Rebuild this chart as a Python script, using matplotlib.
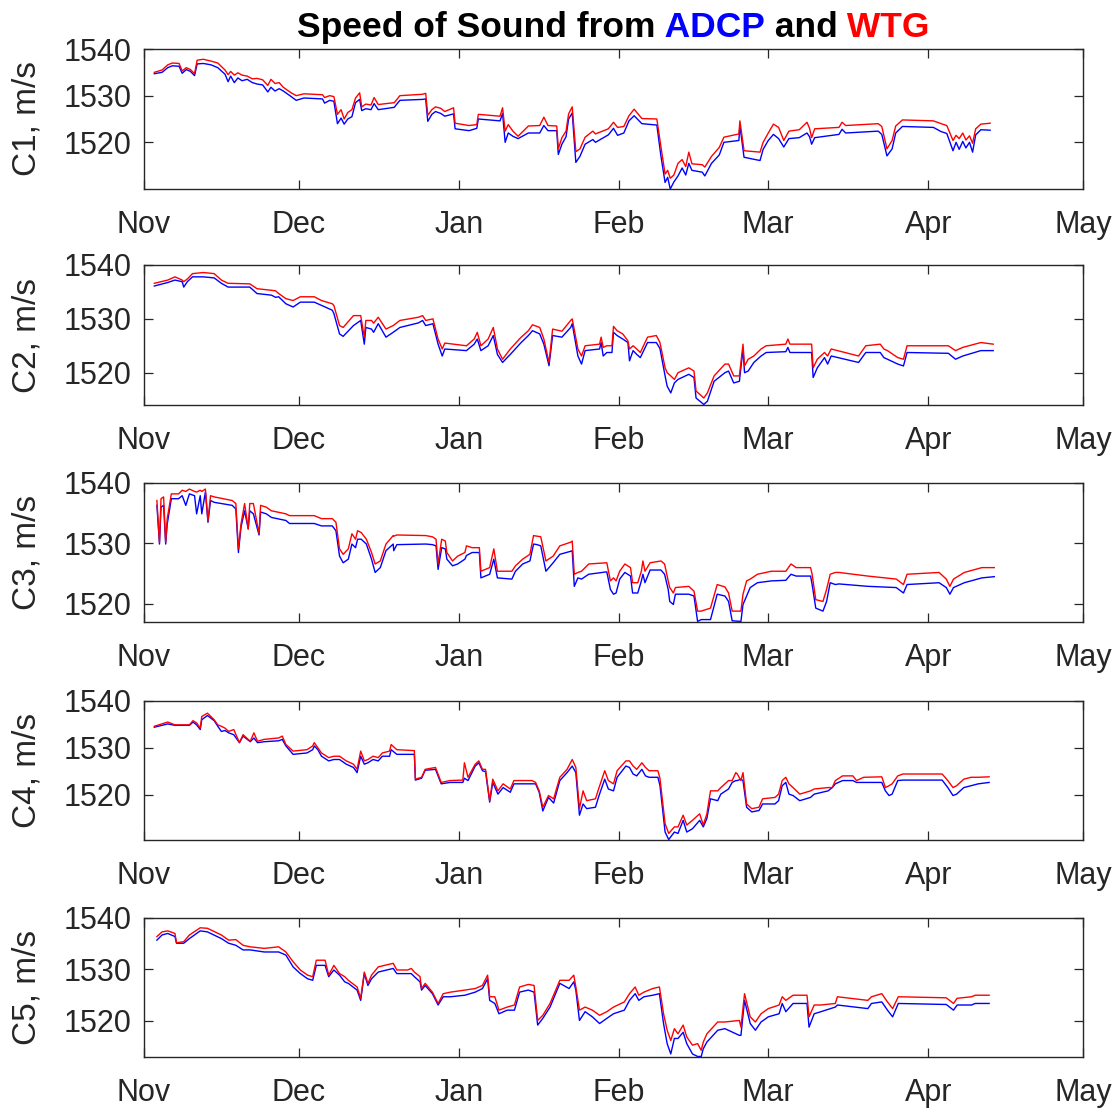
"""Speed of sound at five sites, ADCP vs WTG, Nov 2019 - Apr 2020."""
import datetime as dt

import numpy as np
import matplotlib
matplotlib.use("Agg")
import matplotlib.pyplot as plt
import matplotlib.dates as mdates

START = dt.datetime(2019, 11, 1)
END = dt.datetime(2020, 5, 1)

# (day since Nov 1, ADCP m/s, WTG m/s)
C1 = [
    (2.0, 1534.7, 1535.0), (3.5, 1535.0, 1535.5), (4.6, 1536.0, 1536.6), (5.5, 1536.4, 1537.0),
    (6.8, 1536.3, 1536.9), (7.4, 1534.8, 1535.3), (8.2, 1535.6, 1536.0), (9.0, 1535.2, 1535.6),
    (9.8, 1534.3, 1534.7), (10.3, 1536.8, 1537.6), (11.5, 1536.9, 1537.8), (13.0, 1536.6, 1537.4),
    (14.3, 1536.0, 1537.0), (15.7, 1534.6, 1535.5), (16.3, 1533.0, 1534.5), (16.8, 1534.2, 1535.2),
    (17.5, 1532.8, 1534.4), (18.2, 1533.8, 1534.9), (19.0, 1533.2, 1534.4), (20.0, 1533.5, 1534.2),
    (21.0, 1532.8, 1533.6), (21.9, 1532.5, 1533.7), (23.0, 1532.3, 1533.4), (24.0, 1530.8, 1532.2),
    (24.6, 1531.8, 1533.5), (25.4, 1531.0, 1532.6), (26.2, 1531.5, 1532.8), (27.0, 1531.0, 1531.8),
    (28.4, 1529.9, 1530.7), (29.5, 1529.0, 1530.0), (31.0, 1529.5, 1530.4), (34.6, 1529.3, 1530.2),
    (35.0, 1528.4, 1529.6), (36.0, 1529.0, 1530.0), (36.8, 1528.8, 1529.8), (37.5, 1524.0, 1526.0),
    (38.2, 1525.2, 1527.0), (38.8, 1523.9, 1525.0), (39.5, 1525.0, 1526.4), (40.3, 1525.5, 1527.0),
    (41.0, 1528.5, 1529.5), (41.8, 1529.2, 1530.6), (42.2, 1526.8, 1527.6), (43.0, 1527.2, 1528.2),
    (44.0, 1527.0, 1528.0), (44.6, 1528.3, 1529.6), (45.4, 1527.0, 1528.1), (48.5, 1527.5, 1528.5),
    (49.6, 1529.0, 1530.0), (54.0, 1529.2, 1530.3), (54.6, 1529.3, 1530.5), (55.0, 1524.5, 1525.8),
    (55.8, 1526.0, 1527.0), (56.5, 1526.6, 1527.6), (57.5, 1526.2, 1527.3), (58.3, 1525.6, 1526.6),
    (60.0, 1526.1, 1527.4), (60.3, 1522.9, 1524.1), (63.0, 1522.5, 1523.6), (64.5, 1523.0, 1523.8),
    (64.8, 1525.0, 1526.0), (69.0, 1524.6, 1525.6), (69.5, 1526.2, 1527.4), (70.0, 1520.0, 1522.4),
    (70.6, 1522.0, 1523.8), (71.5, 1521.3, 1522.4), (72.5, 1520.8, 1521.3), (74.5, 1522.0, 1523.5),
    (76.7, 1522.0, 1523.6), (77.5, 1523.6, 1525.4), (78.3, 1522.5, 1523.6), (80.0, 1522.5, 1523.5),
    (80.3, 1517.4, 1518.6), (81.0, 1519.6, 1521.0), (81.8, 1521.2, 1522.4), (82.3, 1525.0, 1526.1),
    (83.0, 1526.3, 1527.6), (83.7, 1515.7, 1518.0), (84.5, 1517.0, 1518.6), (85.5, 1519.6, 1521.1),
    (87.0, 1520.6, 1522.4), (87.5, 1520.0, 1521.8), (90.0, 1521.6, 1522.9), (91.0, 1523.0, 1524.3),
    (91.8, 1521.5, 1523.2), (93.0, 1522.0, 1523.4), (94.0, 1524.6, 1525.7), (95.0, 1525.7, 1527.1),
    (96.5, 1524.0, 1525.1), (99.4, 1523.7, 1525.0), (100.2, 1517.0, 1519.0), (101.0, 1511.4, 1513.2),
    (101.5, 1512.5, 1514.0), (102.0, 1510.0, 1512.3), (102.7, 1511.5, 1513.0), (103.5, 1512.8, 1515.5),
    (104.3, 1514.5, 1516.3), (105.0, 1513.0, 1514.8), (105.6, 1515.5, 1517.9), (106.2, 1514.0, 1515.4),
    (108.2, 1513.6, 1515.2), (108.7, 1512.8, 1514.7), (110.0, 1515.5, 1517.0), (111.5, 1517.3, 1518.9),
    (112.4, 1520.0, 1521.1), (115.3, 1520.4, 1521.8), (115.5, 1523.6, 1524.6), (116.3, 1516.8, 1518.2),
    (119.4, 1516.1, 1517.9), (120.0, 1518.5, 1520.0), (121.0, 1520.4, 1522.0), (122.0, 1521.7, 1523.9),
    (123.0, 1520.8, 1523.2), (124.0, 1519.0, 1520.4), (125.0, 1520.8, 1522.4), (127.0, 1521.0, 1522.7),
    (128.5, 1522.0, 1524.3), (129.0, 1521.2, 1523.0), (129.4, 1519.6, 1521.0), (130.0, 1521.0, 1522.9),
    (134.7, 1521.7, 1523.2), (135.3, 1522.8, 1524.3), (136.0, 1522.0, 1523.6), (142.3, 1522.4, 1524.0),
    (143.0, 1521.7, 1523.4), (144.0, 1517.1, 1518.6), (145.0, 1518.6, 1520.4), (145.7, 1522.0, 1523.5),
    (147.0, 1523.4, 1524.8), (153.0, 1523.2, 1524.6), (154.5, 1522.3, 1524.0), (155.6, 1521.9, 1523.6),
    (156.8, 1518.2, 1520.4), (157.4, 1520.0, 1521.5), (158.0, 1518.5, 1520.8), (158.7, 1520.2, 1522.0),
    (159.3, 1518.8, 1520.5), (160.0, 1520.0, 1521.4), (160.6, 1517.9, 1519.8), (161.2, 1521.6, 1522.9),
    (162.2, 1522.7, 1523.9), (164.0, 1522.6, 1524.1),
]

C2 = [
    (2.0, 1536.1, 1536.6), (4.6, 1536.75, 1537.2), (6.0, 1537.2, 1537.8), (7.4, 1536.9, 1537.2),
    (7.7, 1535.9, 1536.9), (8.4, 1536.9, 1537.4), (9.4, 1537.8, 1538.4), (11.5, 1537.8, 1538.6),
    (13.6, 1537.6, 1538.4), (15.0, 1536.6, 1537.2), (16.3, 1535.9, 1536.6), (20.5, 1535.9, 1536.5),
    (21.9, 1534.7, 1535.6), (24.7, 1534.4, 1535.3), (25.5, 1534.0, 1535.2), (26.1, 1534.1, 1534.7),
    (27.5, 1532.8, 1533.75), (28.9, 1532.2, 1533.4), (30.3, 1533.1, 1534.1), (33.0, 1533.1, 1534.1),
    (34.4, 1532.5, 1533.4), (36.5, 1531.6, 1532.8), (36.8, 1531.0, 1532.5), (37.9, 1527.2, 1528.75),
    (38.6, 1526.75, 1528.4), (40.6, 1528.75, 1530.6), (42.0, 1529.7, 1530.6), (42.7, 1525.3, 1526.6),
    (43.0, 1528.4, 1529.7), (44.1, 1528.1, 1529.7), (44.5, 1527.5, 1529.2), (45.4, 1529.1, 1530.3),
    (46.9, 1526.6, 1528.1), (48.3, 1527.5, 1528.75), (49.6, 1528.4, 1529.7), (53.2, 1529.25, 1530.3),
    (54.0, 1529.7, 1530.6), (54.6, 1528.75, 1529.7), (56.0, 1529.1, 1530.0), (57.0, 1525.3, 1526.25),
    (57.8, 1523.1, 1524.4), (58.3, 1524.4, 1525.5), (62.5, 1524.1, 1525.0), (64.0, 1525.3, 1526.25),
    (64.6, 1526.25, 1527.5), (65.3, 1524.1, 1525.0), (66.7, 1525.0, 1526.25), (67.7, 1526.9, 1528.4),
    (68.5, 1523.4, 1524.4), (69.5, 1521.9, 1522.5), (71.0, 1523.4, 1524.4), (73.0, 1525.5, 1526.5),
    (74.5, 1526.9, 1527.8), (75.3, 1527.8, 1528.9), (76.7, 1527.2, 1528.4), (77.5, 1525.3, 1526.25),
    (78.5, 1521.3, 1521.9), (79.2, 1526.9, 1528.1), (81.0, 1526.6, 1527.7), (82.7, 1528.4, 1529.7),
    (83.0, 1529.1, 1530.0), (84.1, 1523.1, 1524.4), (84.8, 1521.6, 1523.1), (85.5, 1524.1, 1525.0),
    (88.3, 1524.4, 1525.3), (88.6, 1525.6, 1526.6), (89.0, 1523.1, 1524.7), (89.7, 1523.75, 1525.0),
    (90.7, 1523.75, 1525.0), (91.0, 1527.5, 1528.6), (91.7, 1526.9, 1527.8), (92.8, 1526.25, 1527.2),
    (93.8, 1525.6, 1525.9), (94.1, 1522.2, 1524.4), (94.8, 1524.1, 1525.0), (95.5, 1523.4, 1524.4),
    (96.2, 1522.8, 1523.75), (97.6, 1525.6, 1526.6), (99.3, 1525.6, 1526.9), (100.0, 1524.5, 1525.6),
    (101.0, 1519.4, 1520.9), (101.4, 1517.5, 1520.0), (102.1, 1516.25, 1519.4), (102.8, 1518.1, 1518.75),
    (103.5, 1518.75, 1520.0), (105.6, 1519.7, 1520.9), (106.6, 1519.1, 1520.3), (107.0, 1515.3, 1516.6),
    (108.5, 1514.1, 1515.3), (109.2, 1514.7, 1516.25), (110.5, 1518.4, 1519.4), (112.6, 1520.0, 1521.6),
    (113.3, 1520.3, 1521.6), (114.3, 1518.1, 1519.4), (115.4, 1518.4, 1519.4), (116.1, 1524.4, 1525.3),
    (116.4, 1520.0, 1521.25), (117.1, 1520.3, 1522.5), (118.2, 1521.9, 1523.1), (119.6, 1523.1, 1524.4),
    (120.6, 1523.75, 1525.0), (124.4, 1523.9, 1525.3), (124.8, 1524.7, 1526.25), (125.2, 1523.75, 1525.3),
    (129.4, 1523.75, 1525.3), (129.7, 1519.1, 1520.9), (130.5, 1520.9, 1522.5), (131.9, 1522.8, 1523.75),
    (132.5, 1521.6, 1523.1), (133.2, 1523.1, 1524.4), (138.5, 1521.9, 1523.1), (139.9, 1523.75, 1525.0),
    (142.7, 1523.75, 1525.3), (143.4, 1522.8, 1524.4), (144.1, 1522.5, 1524.1), (146.1, 1521.6, 1522.8),
    (147.2, 1521.25, 1522.5), (147.9, 1523.75, 1525.0), (155.9, 1523.6, 1525.0), (157.3, 1522.5, 1524.1),
    (158.7, 1523.1, 1524.7), (162.2, 1524.1, 1525.6), (164.6, 1524.1, 1525.3),
]

C3 = [
    (2.5, 1536.3, 1537.1), (3.0, 1529.9, 1530.2), (3.3, 1536.0, 1537.4), (3.8, 1536.3, 1537.7),
    (4.2, 1529.9, 1530.2), (4.5, 1533.2, 1534.1), (5.3, 1537.4, 1538.2), (6.7, 1537.4, 1538.2),
    (7.4, 1537.9, 1538.8), (8.1, 1536.3, 1538.6), (8.8, 1538.2, 1539.0), (9.8, 1537.9, 1538.6),
    (10.2, 1534.9, 1538.5), (10.9, 1537.9, 1538.8), (11.2, 1534.9, 1538.6), (11.9, 1538.5, 1539.0),
    (12.4, 1533.5, 1533.8), (12.9, 1537.1, 1537.9), (13.6, 1536.8, 1537.7), (17.1, 1536.3, 1537.1),
    (17.8, 1535.7, 1536.6), (18.3, 1528.5, 1529.1), (18.8, 1532.7, 1533.2), (19.5, 1535.4, 1536.6),
    (20.2, 1532.4, 1532.4), (20.5, 1535.4, 1536.6), (21.2, 1534.9, 1536.6), (22.3, 1531.4, 1531.6),
    (22.6, 1535.2, 1536.3), (23.7, 1534.9, 1536.0), (24.7, 1534.3, 1535.4), (27.5, 1533.8, 1534.9),
    (28.2, 1533.3, 1534.6), (33.0, 1533.3, 1534.6), (34.4, 1532.9, 1534.1), (36.5, 1532.9, 1534.1),
    (37.2, 1532.1, 1533.5), (37.9, 1527.9, 1529.1), (38.6, 1526.8, 1528.2), (39.6, 1527.4, 1529.1),
    (40.3, 1529.9, 1531.6), (41.0, 1529.3, 1530.7), (41.4, 1530.7, 1532.1), (42.1, 1530.7, 1531.8),
    (43.1, 1529.9, 1530.7), (44.1, 1527.4, 1528.5), (44.8, 1525.2, 1526.6), (45.8, 1526.0, 1527.1),
    (46.9, 1528.8, 1529.9), (48.3, 1529.9, 1531.3), (48.4, 1528.8, 1531.2), (49.0, 1529.8, 1531.4),
    (54.6, 1529.9, 1531.3), (55.9, 1529.8, 1531.1), (56.6, 1529.6, 1530.7), (57.0, 1525.7, 1526.6),
    (57.7, 1529.3, 1530.7), (58.4, 1529.1, 1530.4), (58.7, 1527.4, 1528.5), (59.8, 1526.3, 1527.1),
    (60.8, 1526.6, 1527.9), (62.2, 1527.4, 1528.5), (62.5, 1528.0, 1529.6), (63.6, 1528.5, 1529.3),
    (65.0, 1528.5, 1529.3), (65.3, 1524.3, 1525.4), (67.0, 1524.9, 1526.0), (67.8, 1527.4, 1529.1),
    (68.5, 1524.3, 1525.4), (71.3, 1524.1, 1525.4), (72.0, 1525.4, 1526.3), (73.4, 1526.6, 1527.4),
    (74.8, 1527.1, 1528.2), (75.5, 1529.9, 1531.3), (76.2, 1529.8, 1531.2), (76.9, 1529.6, 1531.1),
    (77.9, 1525.4, 1527.1), (79.3, 1526.8, 1527.9), (80.6, 1528.2, 1529.6), (82.7, 1528.7, 1530.2),
    (83.0, 1528.8, 1530.4), (83.4, 1522.9, 1524.9), (84.1, 1524.3, 1525.2), (84.8, 1524.1, 1525.4),
    (86.2, 1524.9, 1526.6), (89.7, 1525.3, 1526.8), (90.4, 1522.4, 1523.8), (91.0, 1521.6, 1524.3),
    (91.5, 1521.8, 1523.8), (92.2, 1524.1, 1525.4), (93.2, 1525.2, 1526.6), (94.3, 1524.6, 1526.0),
    (94.7, 1521.8, 1523.5), (95.7, 1521.8, 1523.5), (96.4, 1523.8, 1525.4), (96.7, 1524.9, 1527.1),
    (97.1, 1523.5, 1525.4), (98.1, 1525.6, 1526.8), (100.2, 1525.6, 1527.1), (100.9, 1524.9, 1526.6),
    (101.6, 1522.4, 1523.8), (101.9, 1520.4, 1522.7), (102.6, 1519.9, 1521.8), (103.0, 1521.6, 1522.7),
    (105.6, 1521.6, 1522.9), (106.6, 1521.3, 1522.1), (107.3, 1517.1, 1518.8), (108.0, 1517.4, 1518.8),
    (109.8, 1517.4, 1519.3), (111.1, 1521.6, 1523.2), (112.6, 1521.3, 1522.8), (113.3, 1520.4, 1521.8),
    (114.0, 1517.2, 1518.8), (115.7, 1517.1, 1518.8), (116.1, 1519.9, 1521.6), (116.8, 1521.3, 1523.8),
    (117.5, 1522.7, 1524.1), (118.9, 1523.5, 1524.9), (121.6, 1523.8, 1525.4), (124.4, 1523.9, 1525.4),
    (125.4, 1524.9, 1526.6), (126.4, 1524.6, 1526.0), (129.2, 1524.6, 1526.0), (129.5, 1523.2, 1524.9),
    (130.2, 1519.3, 1520.7), (131.6, 1518.8, 1520.4), (132.3, 1520.4, 1522.4), (133.0, 1523.5, 1524.9),
    (134.0, 1523.2, 1525.2), (134.7, 1523.3, 1525.2), (140.3, 1522.9, 1524.6), (145.8, 1522.7, 1524.1),
    (147.2, 1521.8, 1523.2), (147.9, 1523.2, 1524.9), (154.1, 1523.5, 1525.2), (155.5, 1522.7, 1524.1),
    (156.2, 1521.6, 1522.9), (156.9, 1522.7, 1524.1), (159.0, 1523.5, 1525.2), (162.4, 1524.3, 1526.0),
    (164.8, 1524.5, 1526.0),
]

C4 = [
    (2.0, 1534.4, 1534.6), (4.6, 1535.1, 1535.5), (6.0, 1534.8, 1534.9), (8.8, 1534.8, 1534.9),
    (9.5, 1535.5, 1535.8), (10.2, 1534.9, 1535.3), (10.9, 1533.9, 1534.2), (11.2, 1536.0, 1536.7),
    (12.3, 1536.9, 1537.4), (13.6, 1535.8, 1536.0), (14.3, 1534.6, 1534.9), (15.0, 1533.5, 1534.6),
    (15.7, 1533.7, 1534.2), (16.4, 1533.2, 1533.5), (17.4, 1532.8, 1533.9), (18.5, 1531.1, 1531.1),
    (19.2, 1532.5, 1532.8), (20.6, 1531.3, 1531.4), (21.3, 1532.1, 1533.2), (22.0, 1531.1, 1531.4),
    (23.3, 1531.3, 1531.8), (26.1, 1531.5, 1532.1), (26.8, 1531.8, 1532.5), (27.5, 1530.4, 1530.7),
    (28.9, 1528.6, 1529.3), (31.6, 1528.9, 1529.6), (32.7, 1529.6, 1530.4), (33.0, 1530.4, 1531.1),
    (33.7, 1529.6, 1530.0), (34.4, 1528.2, 1528.9), (35.8, 1527.2, 1527.9), (36.8, 1527.5, 1528.2),
    (37.9, 1527.5, 1528.2), (39.2, 1526.5, 1527.2), (40.6, 1525.8, 1526.5), (41.3, 1524.7, 1525.4),
    (42.0, 1528.2, 1529.3), (42.7, 1526.5, 1527.2), (43.4, 1526.8, 1527.5), (44.4, 1527.5, 1528.2),
    (45.4, 1527.2, 1527.9), (46.2, 1528.2, 1528.9), (47.6, 1528.2, 1529.3), (47.9, 1529.6, 1530.7),
    (49.0, 1528.6, 1529.6), (52.4, 1528.6, 1529.4), (52.6, 1523.1, 1523.3), (53.8, 1523.5, 1523.7),
    (54.5, 1525.2, 1525.4), (56.5, 1525.4, 1525.8), (57.6, 1522.3, 1522.6), (59.3, 1522.6, 1523.0),
    (61.8, 1522.6, 1523.1), (62.1, 1523.5, 1526.8), (62.8, 1523.0, 1523.7), (64.2, 1526.1, 1526.5),
    (64.9, 1526.8, 1527.2), (65.6, 1525.1, 1525.4), (66.2, 1524.9, 1525.4), (67.0, 1518.4, 1518.7),
    (67.6, 1522.6, 1523.3), (68.6, 1520.1, 1520.8), (69.6, 1521.5, 1522.3), (71.0, 1520.5, 1521.2),
    (71.7, 1522.3, 1523.0), (75.2, 1522.3, 1523.0), (75.9, 1522.3, 1522.6), (76.6, 1520.5, 1520.8),
    (77.3, 1516.5, 1517.3), (78.4, 1519.4, 1519.8), (79.4, 1518.2, 1519.1), (80.6, 1523.0, 1523.7),
    (82.0, 1524.7, 1525.4), (83.0, 1526.1, 1527.5), (83.7, 1524.7, 1525.8), (84.4, 1515.6, 1517.0),
    (85.1, 1518.0, 1520.8), (85.8, 1517.0, 1518.7), (87.5, 1517.3, 1519.1), (88.2, 1519.8, 1521.5),
    (89.3, 1523.3, 1525.1), (90.0, 1521.2, 1523.0), (91.0, 1520.8, 1522.3), (91.7, 1523.7, 1525.1),
    (93.4, 1526.1, 1527.2), (94.1, 1525.8, 1527.2), (94.8, 1524.4, 1526.1), (95.5, 1524.0, 1525.4),
    (96.5, 1525.4, 1526.8), (97.2, 1524.0, 1525.8), (97.9, 1523.7, 1525.1), (99.6, 1523.7, 1525.1),
    (100.0, 1522.0, 1523.5), (101.0, 1512.0, 1513.8), (101.7, 1510.4, 1511.7), (102.8, 1512.0, 1513.1),
    (103.5, 1511.7, 1513.1), (104.5, 1514.5, 1515.6), (105.2, 1512.0, 1513.5), (106.3, 1512.7, 1514.5),
    (107.7, 1514.5, 1515.9), (108.4, 1513.1, 1513.5), (109.1, 1514.9, 1515.9), (109.8, 1519.1, 1520.8),
    (111.2, 1518.7, 1520.8), (111.8, 1520.1, 1521.5), (113.3, 1521.2, 1523.0), (114.0, 1522.6, 1523.0),
    (114.7, 1523.0, 1524.7), (115.0, 1523.0, 1524.4), (115.7, 1523.3, 1523.0), (116.1, 1523.0, 1524.7),
    (116.8, 1517.3, 1518.0), (117.8, 1516.3, 1517.0), (119.2, 1516.6, 1517.3), (119.9, 1518.0, 1519.1),
    (122.3, 1518.0, 1519.4), (123.0, 1518.7, 1520.1), (123.7, 1521.9, 1523.0), (124.4, 1522.6, 1523.7),
    (125.0, 1520.1, 1522.3), (125.8, 1519.8, 1521.5), (127.1, 1518.7, 1520.1), (129.2, 1519.4, 1520.8),
    (129.9, 1520.1, 1521.2), (132.6, 1520.8, 1521.5), (133.4, 1521.5, 1521.5), (134.0, 1522.3, 1523.0),
    (135.4, 1523.0, 1524.0), (137.4, 1523.0, 1524.0), (138.1, 1522.6, 1523.0), (139.5, 1522.6, 1523.7),
    (143.0, 1522.6, 1523.8), (143.7, 1520.8, 1521.5), (144.4, 1519.8, 1521.9), (145.0, 1520.1, 1522.3),
    (146.1, 1523.0, 1524.0), (147.1, 1523.1, 1524.4), (154.7, 1523.1, 1524.4), (155.8, 1521.5, 1523.0),
    (156.8, 1519.8, 1521.5), (157.5, 1520.1, 1521.9), (158.9, 1521.5, 1523.3), (160.3, 1521.9, 1523.7),
    (161.7, 1522.3, 1523.7), (163.8, 1522.6, 1523.8),
]

C5 = [
    (2.5, 1535.7, 1536.4), (3.5, 1536.7, 1537.3), (4.6, 1537.0, 1537.5), (6.0, 1536.4, 1537.0),
    (6.3, 1535.1, 1535.2), (7.7, 1535.1, 1535.4), (8.8, 1536.0, 1536.7), (10.9, 1537.5, 1538.1),
    (12.3, 1537.3, 1538.0), (15.0, 1536.0, 1536.7), (16.4, 1535.1, 1535.7), (17.8, 1534.7, 1535.8),
    (19.2, 1533.8, 1534.7), (20.6, 1533.8, 1534.4), (23.3, 1533.4, 1534.1), (26.1, 1533.4, 1534.4),
    (27.5, 1532.8, 1533.4), (28.9, 1530.5, 1531.5), (30.3, 1529.2, 1529.9), (31.7, 1528.2, 1528.9),
    (32.7, 1527.9, 1528.6), (33.4, 1530.8, 1531.8), (35.1, 1530.8, 1531.8), (35.8, 1528.6, 1528.9),
    (36.8, 1529.9, 1530.8), (37.9, 1528.9, 1529.2), (38.9, 1527.6, 1528.6), (39.6, 1527.3, 1527.9),
    (41.3, 1526.0, 1526.6), (42.0, 1524.0, 1524.4), (42.7, 1529.2, 1529.5), (43.4, 1526.9, 1527.3),
    (44.1, 1528.2, 1528.9), (45.4, 1529.5, 1530.5), (48.3, 1530.2, 1531.2), (49.0, 1529.2, 1529.9),
    (51.1, 1529.2, 1529.9), (51.8, 1529.2, 1530.2), (52.4, 1528.6, 1529.5), (53.5, 1527.6, 1528.6),
    (53.8, 1526.0, 1526.3), (54.5, 1526.9, 1527.3), (55.9, 1525.3, 1525.6), (57.0, 1523.1, 1523.4),
    (58.0, 1524.7, 1525.3), (59.4, 1524.7, 1525.6), (62.2, 1525.0, 1526.0), (64.2, 1525.6, 1526.3),
    (65.6, 1526.3, 1526.9), (66.6, 1528.2, 1528.9), (67.0, 1524.0, 1524.7), (68.0, 1523.4, 1524.7),
    (68.8, 1521.4, 1522.1), (70.4, 1522.1, 1522.7), (71.8, 1522.1, 1523.1), (72.8, 1525.6, 1526.6),
    (74.5, 1526.0, 1527.1), (75.6, 1525.6, 1526.9), (76.3, 1519.2, 1520.1), (77.3, 1520.5, 1521.1),
    (78.7, 1522.7, 1523.4), (80.6, 1527.3, 1527.9), (82.4, 1526.3, 1527.9), (83.3, 1527.6, 1528.9),
    (83.7, 1526.0, 1526.6), (84.4, 1520.1, 1522.1), (85.5, 1521.8, 1522.7), (86.9, 1520.8, 1522.1),
    (88.3, 1519.5, 1521.1), (89.7, 1520.5, 1521.8), (91.0, 1521.4, 1522.7), (93.1, 1522.1, 1523.7),
    (94.1, 1524.0, 1525.3), (95.2, 1525.3, 1526.6), (95.9, 1524.0, 1525.0), (96.9, 1524.7, 1525.6),
    (98.6, 1525.0, 1526.3), (99.9, 1525.3, 1526.6), (100.7, 1519.5, 1521.4), (101.4, 1515.6, 1518.2),
    (102.1, 1513.6, 1516.2), (102.8, 1516.6, 1518.5), (103.5, 1516.6, 1517.5), (104.5, 1517.8, 1519.2),
    (105.2, 1515.6, 1516.9), (106.3, 1513.6, 1515.3), (107.3, 1513.1, 1515.6), (108.0, 1513.1, 1514.3),
    (108.4, 1514.6, 1515.9), (109.1, 1515.9, 1517.5), (111.2, 1518.2, 1519.8), (112.6, 1518.5, 1519.8),
    (115.4, 1517.2, 1520.1), (115.7, 1517.2, 1518.8), (116.4, 1524.0, 1525.3), (117.5, 1519.5, 1520.8),
    (118.5, 1518.2, 1519.8), (119.6, 1519.8, 1521.4), (121.0, 1520.8, 1522.4), (123.1, 1521.4, 1523.1),
    (123.7, 1523.4, 1524.7), (124.4, 1521.8, 1524.0), (125.8, 1523.4, 1525.0), (128.5, 1523.4, 1525.0),
    (128.9, 1518.8, 1520.8), (129.9, 1521.4, 1523.1), (131.2, 1521.8, 1523.1), (134.0, 1522.7, 1523.4),
    (134.4, 1523.1, 1524.7), (140.3, 1522.4, 1524.0), (141.0, 1523.4, 1524.7), (143.0, 1523.7, 1525.3),
    (144.1, 1522.1, 1523.7), (145.1, 1520.8, 1522.4), (146.2, 1523.4, 1524.7), (155.5, 1523.2, 1524.5),
    (156.9, 1522.1, 1523.4), (157.6, 1523.1, 1524.4), (160.4, 1523.1, 1524.7), (161.1, 1523.4, 1525.0),
    (163.8, 1523.4, 1525.0),
]

names = ["C1", "C2", "C3", "C4", "C5"]
series = [C1, C2, C3, C4, C5]
y_low = [1510.0, 1514.0, 1517.0, 1510.3, 1513.0]
y_high = 1540.0
y_ticks = [1520, 1530, 1540]

FONT = "Liberation Sans"
INK = "#262626"
plt.rcParams["font.family"] = [FONT, "DejaVu Sans"]

W, H = 1119, 1112
fig = plt.figure(figsize=(W / 100, H / 100), dpi=100)

left_px, right_px = 144, 1083
boxes = [(49, 189), (265, 405), (483, 622), (701, 840), (918, 1057)]

for name, rows, ylo, (top, bot) in zip(names, series, y_low, boxes):
    arr = np.array(rows)
    t = [START + dt.timedelta(days=float(d)) for d in arr[:, 0]]
    ax = fig.add_axes([left_px / W, 1 - bot / H, (right_px - left_px) / W, (bot - top) / H])
    ax.plot(t, arr[:, 1], color=(0, 0, 1), lw=1.0)
    ax.plot(t, arr[:, 2], color=(1, 0, 0), lw=1.0)
    ax.set_xlim(START, END)
    ax.set_ylim(ylo, y_high)
    ax.set_yticks(y_ticks)
    ax.xaxis.set_major_locator(mdates.MonthLocator())
    ax.xaxis.set_major_formatter(mdates.DateFormatter("%b"))
    ax.tick_params(direction="in", top=True, right=True, length=6.8, width=0.9,
                   color=INK, labelcolor=INK, labelsize=22)
    ax.tick_params(axis="x", pad=15)
    ax.tick_params(axis="y", pad=9)
    for s in ax.spines.values():
        s.set_color(INK)
        s.set_linewidth(1.0)
    ax.set_ylabel(f"{name}, m/s", fontsize=24, color=INK)
    ax.yaxis.set_label_coords(-0.108, 0.5)

# two-colour title, built piece by piece
parts = [("Speed of Sound from", "black"), (" ADCP", (0, 0, 1)), (" and", "black"), (" WTG", (1, 0, 0))]
r = fig.canvas.get_renderer()
texts = [fig.text(0, 0.967, s, color=c, fontsize=25.5, fontweight="bold", ha="left", va="baseline")
         for s, c in parts]
widths = [tx.get_window_extent(r).width for tx in texts]
x = (left_px + right_px) / 2 - sum(widths) / 2
for tx, w in zip(texts, widths):
    tx.set_x(x / W)
    x += w

fig.savefig("out.png", dpi=100)
